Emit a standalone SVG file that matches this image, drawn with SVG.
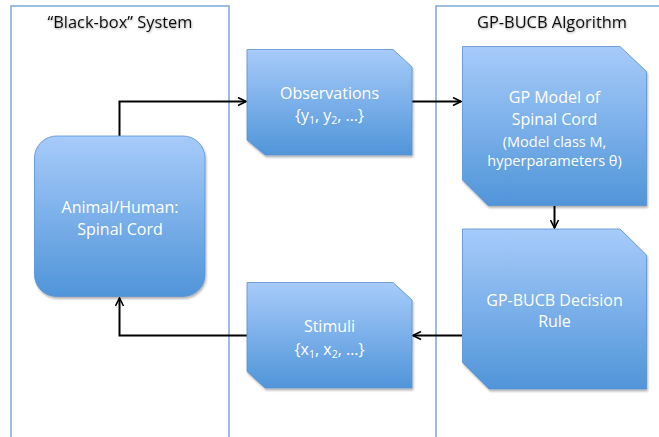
<svg xmlns="http://www.w3.org/2000/svg" width="659" height="437" viewBox="0 0 659 437">
<style>
.frame{fill:none;stroke:#7ea6da;stroke-width:1.5}
.box{fill:url(#g);stroke:#5a8fce;stroke-width:0.8;filter:url(#sh)}
.t{font-family:"Open Sans","Liberation Sans",sans-serif;fill:#fff;text-anchor:middle;font-size:16px}
.ts{font-size:14.5px}
.title{font-family:"Open Sans","Liberation Sans",sans-serif;fill:#111;text-anchor:middle;font-size:16.4px;filter:url(#tsh)}
.c{fill:none;stroke:#000;stroke-width:2;marker-end:url(#ah)}
</style>
<defs>
<linearGradient id="g" x1="0" y1="0" x2="0" y2="1">
<stop offset="0" stop-color="#a7cbfa"/>
<stop offset="1" stop-color="#5095d9"/>
</linearGradient>
<filter id="sh" x="-10%" y="-10%" width="130%" height="130%">
<feDropShadow dx="1" dy="2" stdDeviation="1.2" flood-color="#000" flood-opacity="0.3"/>
</filter>
<filter id="tsh" x="-10%" y="-30%" width="120%" height="160%">
<feDropShadow dx="0.5" dy="1" stdDeviation="0.8" flood-color="#000" flood-opacity="0.35"/>
</filter>
<marker id="ah" viewBox="0 0 10 10" refX="9" refY="5" markerWidth="5" markerHeight="5" orient="auto" markerUnits="strokeWidth">
<path d="M1,1 L9,5 L1,9" fill="none" stroke="#000" stroke-width="1.6"/>
</marker>
</defs>
<g id="frame-blackbox">
<rect class="frame" x="11" y="6" width="218" height="440"/>
<text class="title" x="120" y="28">“Black-box” System</text>
</g>
<g id="frame-gpbucb">
<rect class="frame" x="436" y="6" width="240" height="440"/>
<text class="title" x="552" y="28">GP-BUCB Algorithm</text>
</g>
<g id="connectors">
<path class="c" d="M119.5,136 V101.5 H246"/>
<path class="c" d="M412,101.5 H461"/>
<path class="c" d="M554.5,206 V228"/>
<path class="c" d="M462,335.5 H413"/>
<path class="c" d="M247,335.5 H119.5 V298"/>
</g>
<g id="animal">
<rect class="box" x="34.5" y="136" width="170.5" height="160.5" rx="22"/>
<text class="t" x="120" y="213">Animal/Human:</text>
<text class="t" x="120" y="235">Spinal Cord</text>
</g>
<g id="observations">
<path class="box" d="M247,49.5 H393 L412,67 V155 H265 L247,140 Z"/>
<text class="t" x="329.5" y="98.5">Observations</text>
<text class="t" x="329.5" y="121">{y<tspan font-size="10.5" dy="3">1</tspan><tspan dy="-3">, y</tspan><tspan font-size="10.5" dy="3">2</tspan><tspan dy="-3">, …}</tspan></text>
</g>
<g id="gpmodel">
<path class="box" d="M462.5,46.5 H620 L646.5,71.5 V205.5 H488 L462.5,180 Z"/>
<text class="t" x="554.5" y="103">GP Model of</text>
<text class="t" x="554.5" y="125">Spinal Cord</text>
<text class="t ts" x="554.5" y="146.5">(Model class M,</text>
<text class="t ts" x="554.5" y="165.5">hyperparameters θ)</text>
</g>
<g id="decision">
<path class="box" d="M462.5,229 H620 L646.5,255 V389 H489 L462.5,362.5 Z"/>
<text class="t" x="554.5" y="305.5">GP-BUCB Decision</text>
<text class="t" x="554.5" y="327">Rule</text>
</g>
<g id="stimuli">
<path class="box" d="M247,282.5 H393 L412,300 V388 H265 L247,371.5 Z"/>
<text class="t" x="329.5" y="331.5">Stimuli</text>
<text class="t" x="329.5" y="355">{x<tspan font-size="10.5" dy="3">1</tspan><tspan dy="-3">, x</tspan><tspan font-size="10.5" dy="3">2</tspan><tspan dy="-3">, …}</tspan></text>
</g>
</svg>
